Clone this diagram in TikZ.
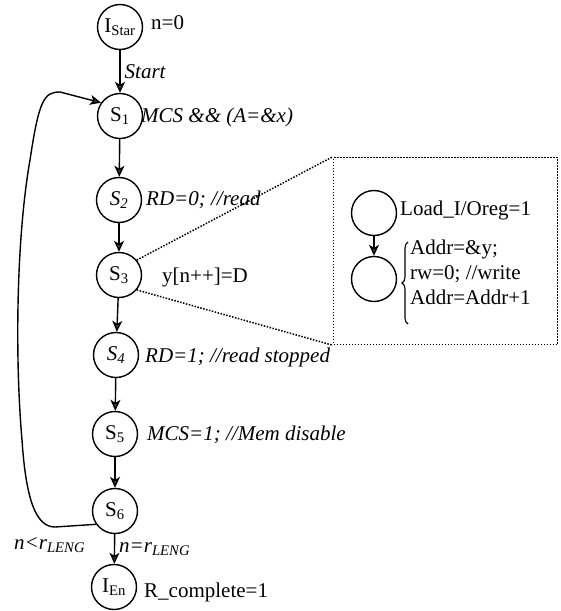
\documentclass[tikz,border=0pt]{standalone}
\usepackage{fontspec}
\setmainfont{Liberation Serif}
\usepackage{tikz}
\usetikzlibrary{arrows.meta,decorations.pathreplacing}

\begin{document}
\begin{tikzpicture}[x=1pt,y=-1pt,font=\fontsize{21}{25}\selectfont,>={Stealth[length=11pt,width=10pt,inset=3pt,fill=black!75]},
  st/.style={circle,draw,line width=1.4pt,minimum size=45pt,inner sep=0pt},
  tr/.style={->,line width=1.4pt},
  act/.style={anchor=west,inner sep=1pt,font=\fontsize{21}{25}\selectfont\itshape},
  outp/.style={anchor=west,inner sep=1pt},
  elab/.style={right,xshift=3pt,inner sep=1pt,font=\fontsize{21}{25}\selectfont\itshape},
  zoomline/.style={line width=1.5pt,dash pattern=on 1.5pt off 1.5pt}]
\useasboundingbox (0,0) rectangle (561,611);
\node[st] (istar) at (120,27){I\textsubscript{Star}};
\node[st] (s1) at (120,116){S\textsubscript{1}};
\node[st] (s2) at (119,200){\textit{S\textsubscript{2}}};
\node[st] (s3) at (119,275){S\textsubscript{3}};
\node[st] (s4) at (116,355){\textit{S\textsubscript{4}}};
\node[st] (s5) at (115,434){S\textsubscript{5}};
\node[st] (s6) at (115,511){S\textsubscript{6}};
\node[st] (ien) at (114,587){I\textsubscript{En}};
\node[outp] (o0) at (150,23){n=0};
\node[act] (a1) at (140,117){MCS \&\& (A=\&x)};
\node[act] (a2) at (145,200){RD=0; //read};
\node[outp] (a3) at (161,277){y[n++]=D};
\node[act] (a4) at (144,357){RD=1; //read stopped};
\node[act] (a5) at (146,435){MCS=1; //Mem disable};
\node[outp] (oen) at (143,592){R\_complete=1};
\node[act] (cless) at (13,545){n<r\textsubscript{LENG}};
\draw[tr] (istar) -- node[elab]{Start} (s1);
\draw[tr] (s1) -- (s2);
\draw[tr] (s2) -- (s3);
\draw[tr] (s3) -- (s4);
\draw[tr] (s4) -- (s5);
\draw[tr] (s5) -- (s6);
\draw[tr] (s6) -- node[elab]{n=r\textsubscript{LENG}} (ien);
\coordinate (lpa) at (55,527);
\coordinate (lpb) at (22,440);
\coordinate (lpc) at (30,160);
\coordinate (lpd) at (60,92);
\draw[tr] (s6.215) -- (lpa) .. controls (36,527) and (26,500) .. (lpb) .. controls (15,360) and (16,240) .. (lpc) .. controls (39,100) and (44,92) .. (lpd) -- (s1.145);
\node[draw,zoomline,minimum width=224pt,minimum height=187pt,inner sep=0pt] (zoom) at (445.5,251){};
\draw[zoomline] (s3.40) -- (zoom.north west);
\draw[zoomline] (s3.-40) -- (zoom.south west);
\node[st] (ia) at (374,213){};
\node[st] (ib) at (374,279){};
\node[outp] (la) at (399,210){Load\_I/Oreg=1};
\coordinate (brb) at (408,324);
\coordinate (brt) at (408,242);
\draw[line width=1.1pt,decorate,decoration={brace,amplitude=6pt}] (brb) -- (brt);
\node[outp] (lb) at (409,274){\begin{tabular}{@{}l@{}}Addr=\&y;\\rw=0; //write\\Addr=Addr+1\end{tabular}};
\draw[tr] (ia) -- (ib);
\end{tikzpicture}
\end{document}
